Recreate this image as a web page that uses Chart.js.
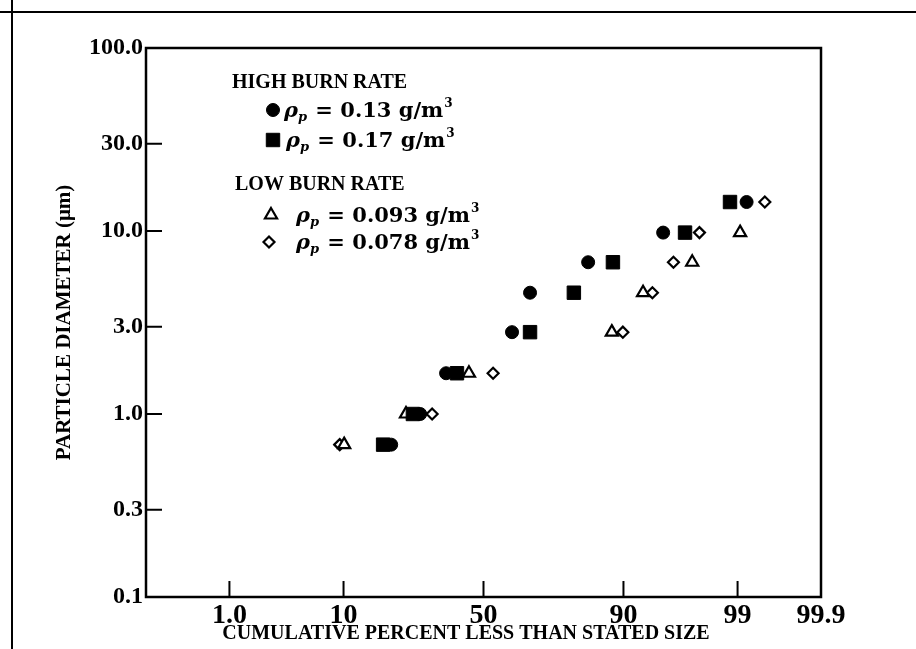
<!DOCTYPE html>
<html>
<head>
<meta charset="utf-8">
<script src="https://cdn.jsdelivr.net/npm/chart.js@4.4.0/dist/chart.umd.min.js"></script>
<style>
  html, body { margin: 0; padding: 0; background: #fff; }
  #wrap { width: 916px; height: 649px; }
</style>
</head>
<body>
<div id="wrap"><canvas id="chart" width="916" height="649"></canvas></div>
<script>
// particle diameter (um) of each size cut
var diameters = [0.68, 1.0, 1.67, 2.8, 4.6, 6.75, 9.8, 14.4];

// cumulative percent less than stated size, one list per run
var highBurn013 = [19.9, 28.1, 36.6, 60.3, 66.5, 83.1, 95.0, 99.2];
var highBurn017 = [17.9, 25.9, 40.4, 66.5, 79.6, 88.2, 96.75, 98.8];
var lowBurn0093 = [10.1, 23.9, 44.7, 88.0, 92.8, 97.2, 99.06];
var lowBurn0078 = [9.4, 31.9, 53.5, 89.9, 93.9, 95.9, 97.6, 99.5];

var densities = ['0.13', '0.17', '0.093', '0.078'];

var xTicks = [1, 10, 50, 90, 99, 99.9];
var xTickLabels = ['1.0', '10', '50', '90', '99', '99.9'];
var yTicks = [0.1, 0.3, 1, 3, 10, 30, 100];
var yTickLabels = ['0.1', '0.3', '1.0', '3.0', '10.0', '30.0', '100.0'];

// inverse of the normal distribution (Acklam)
function probit(p) {
  var a = [-3.969683028665376e+01, 2.209460984245205e+02, -2.759285104469687e+02, 1.383577518672690e+02, -3.066479806614716e+01, 2.506628277459239e+00];
  var b = [-5.447609879822406e+01, 1.615858368580409e+02, -1.556989798598866e+02, 6.680131188771972e+01, -1.328068155288572e+01];
  var c = [-7.784894002430293e-03, -3.223964580411365e-01, -2.400758277161838e+00, -2.549732539343734e+00, 4.374664141464968e+00, 2.938163982698783e+00];
  var d = [7.784695709041462e-03, 3.224671290700398e-01, 2.445134137142996e+00, 3.754408661907416e+00];
  var q, r;
  if (p < 0.02425) {
    q = Math.sqrt(-2 * Math.log(p));
    return (((((c[0]*q+c[1])*q+c[2])*q+c[3])*q+c[4])*q+c[5]) / ((((d[0]*q+d[1])*q+d[2])*q+d[3])*q+1);
  }
  if (p > 1 - 0.02425) {
    q = Math.sqrt(-2 * Math.log(1 - p));
    return -(((((c[0]*q+c[1])*q+c[2])*q+c[3])*q+c[4])*q+c[5]) / ((((d[0]*q+d[1])*q+d[2])*q+d[3])*q+1);
  }
  q = p - 0.5;
  r = q * q;
  return (((((a[0]*r+a[1])*r+a[2])*r+a[3])*r+a[4])*r+a[5])*q / (((((b[0]*r+b[1])*r+b[2])*r+b[3])*r+b[4])*r+1);
}

function normCdf(z) {
  var t = 1 / (1 + 0.2316419 * Math.abs(z));
  var dens = 0.3989423 * Math.exp(-z * z / 2);
  var p = dens * t * (0.3193815 + t * (-0.3565638 + t * (1.781478 + t * (-1.821256 + t * 1.330274))));
  return z > 0 ? 1 - p : p;
}

// probability-paper axis (percent values, normal quantile spacing)
class ProbabilityScale extends Chart.Scale {
  determineDataLimits() {
    this.min = this.options.min;
    this.max = this.options.max;
  }
  buildTicks() {
    return xTicks.map(function (v) { return { value: v }; });
  }
  getLabelForValue(v) {
    return String(v);
  }
  getPixelForValue(v) {
    var z0 = probit(this.min / 100), z1 = probit(this.max / 100);
    return this.getPixelForDecimal((probit(v / 100) - z0) / (z1 - z0));
  }
  getValueForPixel(px) {
    var z0 = probit(this.min / 100), z1 = probit(this.max / 100);
    return normCdf(z0 + this.getDecimalForPixel(px) * (z1 - z0)) * 100;
  }
}
ProbabilityScale.id = 'probability';
ProbabilityScale.defaults = {};
Chart.register(ProbabilityScale);

function points(pcts) {
  return pcts.map(function (p, i) { return { x: p, y: diameters[i] }; });
}

var serif = '"Liberation Serif", "Times New Roman", serif';
var legendFont = '"DejaVu Serif", serif';

// box, inward ticks and the scan edges
var framePlugin = {
  id: 'frame',
  beforeDatasetsDraw: function (chart) {
    var a = chart.chartArea, ctx = chart.ctx;
    var xs = chart.scales.x, ys = chart.scales.y;
    ctx.save();
    ctx.strokeStyle = '#000';
    ctx.lineWidth = 2.5;
    ctx.strokeRect(a.left, a.top, a.right - a.left, a.bottom - a.top);
    ctx.lineWidth = 2;
    ctx.beginPath();
    xs.ticks.forEach(function (t) {
      var px = xs.getPixelForValue(t.value);
      ctx.moveTo(px, a.bottom);
      ctx.lineTo(px, a.bottom - 16);
    });
    ys.ticks.forEach(function (t) {
      var py = ys.getPixelForValue(t.value);
      ctx.moveTo(a.left, py);
      ctx.lineTo(a.left + 16, py);
    });
    ctx.stroke();
    ctx.beginPath();
    ctx.moveTo(12, 0); ctx.lineTo(12, chart.height);
    ctx.moveTo(0, 12); ctx.lineTo(chart.width, 12);
    ctx.stroke();
    ctx.restore();
  }
};

function densityEntry(ctx, ds, mx, tx, y, value) {
  ctx.fillStyle = ds.backgroundColor;
  ctx.strokeStyle = ds.borderColor;
  ctx.lineWidth = ds.borderWidth;
  Chart.helpers.drawPoint(ctx, { pointStyle: ds.pointStyle, radius: ds.pointRadius, borderWidth: ds.borderWidth, rotation: 0 }, mx, y);
  ctx.fillStyle = '#000';
  var base = y + 7;
  ctx.font = 'italic bold 21px ' + legendFont;
  ctx.fillText('\u03c1', tx, base);
  var x = tx + ctx.measureText('\u03c1').width;
  ctx.font = 'italic bold 13px ' + legendFont;
  ctx.fillText('p', x, base + 4);
  x += ctx.measureText('p').width + 1;
  ctx.font = 'bold 21px ' + legendFont;
  var s = ' = ' + value + ' g/m';
  ctx.fillText(s, x, base);
  x += ctx.measureText(s).width + 1;
  ctx.font = 'bold 12px ' + legendFont;
  ctx.fillText('3', x, base - 10);
}

var legendPlugin = {
  id: 'burnLegend',
  afterDraw: function (chart) {
    var ctx = chart.ctx, ds = chart.data.datasets;
    ctx.save();
    ctx.textBaseline = 'alphabetic';
    ctx.textAlign = 'left';
    ctx.fillStyle = '#000';
    ctx.font = 'bold 20px ' + serif;
    ctx.fillText('HIGH BURN RATE', 232, 88);
    ctx.fillText('LOW BURN RATE', 235, 190);
    densityEntry(ctx, ds[0], 273, 284, 110, densities[0]);
    densityEntry(ctx, ds[1], 273, 286, 140, densities[1]);
    densityEntry(ctx, ds[2], 271, 296, 215, densities[2]);
    densityEntry(ctx, ds[3], 269, 296, 242, densities[3]);
    ctx.restore();
  }
};

new Chart(document.getElementById('chart'), {
  type: 'scatter',
  data: {
    datasets: [
      { label: 'HIGH BURN RATE, \u03c1p = 0.13 g/m3', data: points(highBurn013), pointStyle: 'circle', pointRadius: 6.5,
        backgroundColor: '#000', borderColor: '#000', borderWidth: 1 },
      { label: 'HIGH BURN RATE, \u03c1p = 0.17 g/m3', data: points(highBurn017), pointStyle: 'rect', pointRadius: 9.5,
        backgroundColor: '#000', borderColor: '#000', borderWidth: 1 },
      { label: 'LOW BURN RATE, \u03c1p = 0.093 g/m3', data: points(lowBurn0093), pointStyle: 'triangle', pointRadius: 7,
        backgroundColor: '#fff', borderColor: '#000', borderWidth: 2.2 },
      { label: 'LOW BURN RATE, \u03c1p = 0.078 g/m3', data: points(lowBurn0078), pointStyle: 'rectRot', pointRadius: 5.5,
        backgroundColor: '#fff', borderColor: '#000', borderWidth: 2.2 }
    ]
  },
  options: {
    responsive: false,
    animation: false,
    events: [],
    layout: { padding: { left: 0, right: 95, top: 48, bottom: 0 } },
    plugins: { legend: { display: false }, tooltip: { enabled: false } },
    scales: {
      x: {
        type: 'probability',
        min: 0.1,
        max: 99.9,
        grid: { display: false, drawTicks: false },
        border: { display: false },
        ticks: {
          autoSkip: false, maxRotation: 0, padding: 2, color: '#000',
          font: { family: serif, size: 28, weight: 'bold' },
          callback: function (v, i) { return xTickLabels[i]; }
        },
        title: {
          display: true,
          // trailing spaces pull the centred text a little to the left, as in the print
          text: 'CUMULATIVE PERCENT LESS THAN STATED SIZE\u00a0\u00a0\u00a0\u00a0\u00a0\u00a0\u00a0',
          color: '#000',
          font: { family: serif, size: 20, weight: 'bold' },
          padding: { top: 0, bottom: 3 }
        },
        afterFit: function (s) { s.height = 52; }
      },
      y: {
        type: 'logarithmic',
        min: 0.1,
        max: 100,
        grid: { display: false, drawTicks: false },
        border: { display: false },
        afterBuildTicks: function (s) { s.ticks = yTicks.map(function (v) { return { value: v }; }); },
        ticks: {
          autoSkip: false, padding: 3, color: '#000',
          font: { family: serif, size: 24, weight: 'bold' },
          callback: function (v) { return yTickLabels[yTicks.indexOf(v)]; }
        },
        title: {
          display: true, text: 'PARTICLE DIAMETER (\u03bcm)', color: '#000',
          font: { family: serif, size: 21, weight: 'bold' },
          padding: { top: 52, bottom: 0 }
        },
        afterFit: function (s) { s.width = 146; }
      }
    }
  },
  plugins: [framePlugin, legendPlugin]
});
</script>
</body>
</html>
